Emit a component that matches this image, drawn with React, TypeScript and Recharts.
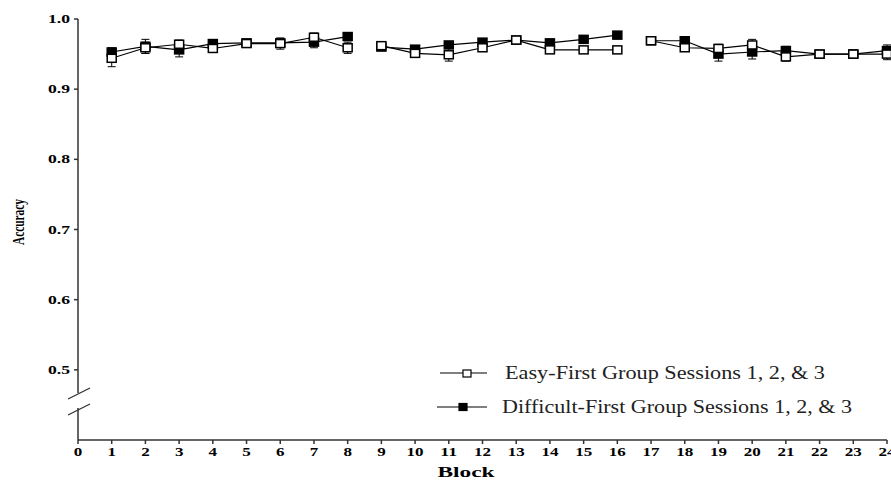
import { LineChart, Line, XAxis, YAxis, ErrorBar } from "recharts";

const blocks = [1, 2, 3, 4, 5, 6, 7, 8, 9, 10, 11, 12, 13, 14, 15, 16, 17, 18, 19, 20, 21, 22, 23, 24];
const easyFirst = [
  0.944, 0.959, 0.964, 0.958, 0.965, 0.965, 0.974, 0.959,
  0.962, 0.951, 0.949, 0.959, 0.970, 0.956, 0.956, 0.956,
  0.969, 0.959, 0.958, 0.963, 0.946, 0.950, 0.950, 0.950,
];
const difficultFirst = [
  0.953, 0.961, 0.956, 0.965, 0.966, 0.966, 0.967, 0.975,
  0.960, 0.957, 0.963, 0.967, 0.970, 0.966, 0.971, 0.977,
  0.969, 0.969, 0.950, 0.953, 0.955, 0.950, 0.950, 0.955,
];
const easyErr = [
  0.012, 0.008, 0.006, 0.005, 0.004, 0.008, 0.006, 0.008,
  0.004, 0.004, 0.009, 0.004, 0.004, 0.004, 0.004, 0.004,
  0.004, 0.004, 0.006, 0.008, 0.006, 0.005, 0.005, 0.008,
];
const difficultErr = [
  0.006, 0.010, 0.010, 0.004, 0.004, 0.004, 0.008, 0.004,
  0.004, 0.004, 0.004, 0.004, 0.004, 0.004, 0.004, 0.004,
  0.004, 0.004, 0.010, 0.010, 0.006, 0.005, 0.006, 0.008,
];
const sessions = [
  [1, 8],
  [9, 16],
  [17, 24],
];
const xTicks = [0, 1, 2, 3, 4, 5, 6, 7, 8, 9, 10, 11, 12, 13, 14, 15, 16, 17, 18, 19, 20, 21, 22, 23, 24];
const yTicks = [0.5, 0.6, 0.7, 0.8, 0.9, 1.0];
const legendLabels = [
  "Easy-First Group Sessions 1, 2, & 3",
  "Difficult-First Group Sessions 1, 2, & 3",
];

const FONT = "'Liberation Serif', 'Times New Roman', serif";

function segment(values: number[], errs: number[], from: number, to: number) {
  return blocks
    .map((b, i) => ({ block: b, value: values[i], err: errs[i] }))
    .filter((d) => d.block >= from && d.block <= to);
}

const OpenSquare = (props: any) => {
  const { cx, cy } = props;
  if (cx == null || cy == null) return null;
  return <rect x={cx - 4.5} y={cy - 4} width={9} height={8} fill="#fff" stroke="#000" strokeWidth={1.5} />;
};

const FilledSquare = (props: any) => {
  const { cx, cy } = props;
  if (cx == null || cy == null) return null;
  return <rect x={cx - 4.5} y={cy - 4} width={9} height={8} fill="#000" stroke="#000" strokeWidth={1.5} />;
};

const XTick = (props: any) => {
  const { x, y, payload } = props;
  const s = String(payload.value);
  return (
    <text
      x={x}
      y={y + 10}
      textAnchor="middle"
      fontFamily={FONT}
      fontWeight="bold"
      fontSize={12}
      fill="#000"
      textLength={s.length * 8.5}
      lengthAdjust="spacingAndGlyphs"
    >
      {s}
    </text>
  );
};

const YTick = (props: any) => {
  const { x, y, payload } = props;
  const s = Number(payload.value).toFixed(1);
  return (
    <text
      x={x - 2}
      y={y + 4}
      textAnchor="end"
      fontFamily={FONT}
      fontWeight="bold"
      fontSize={12}
      fill="#000"
      textLength={22}
      lengthAdjust="spacingAndGlyphs"
    >
      {s}
    </text>
  );
};

export default function App() {
  return (
    <div style={{ position: "absolute", left: 0, top: 0, width: 891, height: 484, background: "#fff" }}>
      <LineChart width={891} height={484} margin={{ top: 19, right: 4, left: 0, bottom: 0 }}>
        <XAxis
          dataKey="block"
          type="number"
          domain={[0, 24]}
          ticks={xTicks}
          interval={0}
          allowDuplicatedCategory={false}
          height={44}
          stroke="#333"
          strokeWidth={1.5}
          tickSize={4}
          tick={<XTick />}
        />
        <YAxis
          type="number"
          domain={[0.4, 1.0]}
          ticks={yTicks}
          width={78}
          stroke="#333"
          strokeWidth={1.5}
          tickSize={4}
          tick={<YTick />}
        />
        {sessions.map(([from, to]) => (
          <Line
            key={`d-${from}`}
            data={segment(difficultFirst, difficultErr, from, to)}
            dataKey="value"
            stroke="#000"
            strokeWidth={1.2}
            dot={<FilledSquare />}
            activeDot={false}
            isAnimationActive={false}
          >
            <ErrorBar dataKey="err" width={4} stroke="#000" strokeWidth={1} direction="y" />
          </Line>
        ))}
        {sessions.map(([from, to]) => (
          <Line
            key={`e-${from}`}
            data={segment(easyFirst, easyErr, from, to)}
            dataKey="value"
            stroke="#000"
            strokeWidth={1.2}
            dot={<OpenSquare />}
            activeDot={false}
            isAnimationActive={false}
          >
            <ErrorBar dataKey="err" width={4} stroke="#000" strokeWidth={1} direction="y" />
          </Line>
        ))}
      </LineChart>
      <svg
        width={891}
        height={484}
        style={{ position: "absolute", left: 0, top: 0, pointerEvents: "none" }}
      >
        {/* axis break */}
        <rect x={74} y={393} width={8} height={15} fill="#fff" />
        <line x1={68} y1={399} x2={90} y2={388} stroke="#333" strokeWidth={1.3} />
        <line x1={68} y1={415} x2={90} y2={404} stroke="#333" strokeWidth={1.3} />
        {/* axis titles */}
        <text
          x={466}
          y={477}
          textAnchor="middle"
          fontFamily={FONT}
          fontWeight="bold"
          fontSize={15}
          fill="#000"
          textLength={57}
          lengthAdjust="spacingAndGlyphs"
        >
          Block
        </text>
        <g transform="translate(24,222) rotate(-90)">
          <text
            x={0}
            y={0}
            textAnchor="middle"
            fontFamily={FONT}
            fontWeight="bold"
            fontSize={16}
            fill="#000"
            textLength={46}
            lengthAdjust="spacingAndGlyphs"
          >
            Accuracy
          </text>
        </g>
        {/* legend */}
        <line x1={440} y1={373} x2={487} y2={373} stroke="#000" strokeWidth={1.2} />
        <rect x={463} y={370} width={8} height={7} fill="#fff" stroke="#000" strokeWidth={1.2} />
        <text x={505} y={379} fontFamily={FONT} fontSize={19} fill="#222" textLength={320} lengthAdjust="spacingAndGlyphs">
          {legendLabels[0]}
        </text>
        <line x1={437} y1={407} x2={487} y2={407} stroke="#000" strokeWidth={1.2} />
        <rect x={459} y={403.5} width={8} height={7} fill="#000" stroke="#000" strokeWidth={1.2} />
        <text x={502} y={413} fontFamily={FONT} fontSize={19} fill="#222" textLength={350} lengthAdjust="spacingAndGlyphs">
          {legendLabels[1]}
        </text>
      </svg>
    </div>
  );
}
